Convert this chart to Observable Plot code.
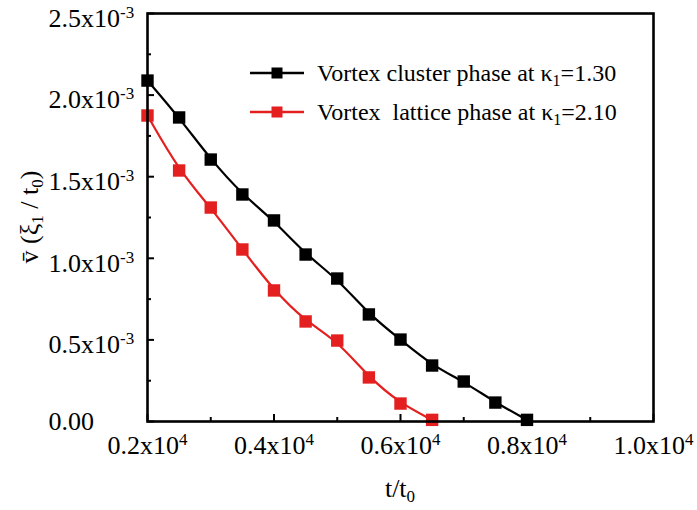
<!DOCTYPE html>
<html><head><meta charset="utf-8">
<script src="https://cdn.jsdelivr.net/npm/d3@7"></script>
<script src="https://cdn.jsdelivr.net/npm/@observablehq/plot@0.6"></script>
<style>
body{margin:0;background:#fff}
#chart{position:relative;width:697px;height:510px}
#chart svg text{font-family:"Liberation Serif","Times New Roman",serif !important}
</style>
</head><body><div id="chart"></div>
<script>
// ---- data ----
const clusterT = [2000,2500,3000,3500,4000,4500,5000,5500,6000,6500,7000,7500,8000];
const clusterV = [2.089e-3,1.863e-3,1.605e-3,1.391e-3,1.232e-3,1.023e-3,0.876e-3,0.656e-3,0.502e-3,0.343e-3,0.245e-3,0.116e-3,0.010e-3];
const latticeT = [2000,2500,3000,3500,4000,4500,5000,5500,6000,6500];
const latticeV = [1.875e-3,1.538e-3,1.311e-3,1.054e-3,0.803e-3,0.613e-3,0.496e-3,0.270e-3,0.110e-3,0.010e-3];
const seriesNames = ["cluster","lattice"];
const seriesColors = ["#000000","#e3201f"];
const legendLabels = [
  ["Vortex cluster phase at κ","1","=1.30"],
  ["Vortex  lattice phase at κ","1","=2.10"]
];
const xTicks = [2000,4000,6000,8000,10000];
const xTickLabels = ["0.2x10^4","0.4x10^4","0.6x10^4","0.8x10^4","1.0x10^4"];
const xMinorTicks = [3000,5000,7000,9000];
const yTicks = [0,0.0005,0.001,0.0015,0.002,0.0025];
const yTickLabels = ["0.00","0.5x10^-3","1.0x10^-3","1.5x10^-3","2.0x10^-3","2.5x10^-3"];
const yMinorTicks = [0.00025,0.00075,0.00125,0.00175,0.00225];

const rows = [
  ...clusterT.map((t,i)=>({t, v:clusterV[i], series:seriesNames[0]})),
  ...latticeT.map((t,i)=>({t, v:latticeV[i], series:seriesNames[1]}))
];

const font = "'Liberation Serif','Times New Roman',serif";
const plot = Plot.plot({
  width:697, height:510,
  marginLeft:147, marginRight:44, marginTop:13, marginBottom:89,
  style:{fontFamily:font, fontSize:"26px", background:"#fff", color:"#000", overflow:"visible"},
  x:{domain:[2000,10000]},
  y:{domain:[0,0.0025]},
  color:{domain:seriesNames, range:seriesColors},
  marks:[
    Plot.line(rows,{x:"t",y:"v",z:"series",stroke:"series",strokeWidth:2.2,curve:"basis"}),
    Plot.dot(rows,{x:"t",y:"v",fill:"series",symbol:"square",r:7}),
    Plot.axisX(xTicks,{tickSize:0,tickPadding:14,tickFormat:d=>xTickLabels[xTicks.indexOf(d)],fontSize:26,label:null}),
    Plot.axisX(xTicks,{tickSize:-7,fill:"none",strokeWidth:2,label:null}),
    Plot.axisX(xMinorTicks,{tickSize:-4,fill:"none",strokeWidth:2,label:null}),
    Plot.axisY(yTicks,{tickSize:0,tickPadding:99,tickFormat:d=>yTickLabels[yTicks.indexOf(d)],fontSize:26,label:null}),
    Plot.axisY(yTicks,{tickSize:-7,fill:"none",strokeWidth:2,label:null}),
    Plot.axisY(yMinorTicks,{tickSize:-4,fill:"none",strokeWidth:2,label:null}),
    Plot.frame({strokeWidth:2.6})
  ]
});
document.getElementById("chart").appendChild(plot);

const svg = d3.select(plot);
// superscripts in tick labels
svg.selectAll('g[aria-label="x-axis tick label"] text, g[aria-label="y-axis tick label"] text').each(function(){
  const s = this.textContent;
  const k = s.indexOf("^");
  if (k < 0) return;
  const el = d3.select(this);
  el.text(s.slice(0,k));
  el.append("tspan").attr("font-size","17px").attr("dy","-9").text(s.slice(k+1));
});
svg.selectAll('g[aria-label="y-axis tick label"] text').each(function(){
  if (this.querySelector("tspan")) {
    const el = d3.select(this);
    const tr = el.attr("transform") || "";
    el.attr("transform", tr + " translate(0,5)");
  }
});
svg.selectAll('g[aria-label="y-axis tick label"]').attr("text-anchor","start");

// axis titles
const xt = svg.append("text").attr("x",400).attr("y",497).attr("text-anchor","middle")
  .attr("font-size",26).attr("fill","#000");
xt.append("tspan").text("t/t");
xt.append("tspan").attr("font-size",17).attr("dy",5).text("0");

const yt = svg.append("text").attr("transform","translate(38,217) rotate(-90)").attr("text-anchor","middle")
  .attr("font-size",26).attr("fill","#000").attr("xml:space","preserve");
yt.append("tspan").text("v\u0304 (ξ");
yt.append("tspan").attr("font-size",17).attr("dy",5).text("1");
yt.append("tspan").attr("dy",-5).text(" / t");
yt.append("tspan").attr("font-size",17).attr("dy",5).text("0");
yt.append("tspan").attr("dy",-5).text(")");

// legend
const lg = svg.append("g");
[73,112].forEach((ly,i)=>{
  lg.append("line").attr("x1",250).attr("x2",304).attr("y1",ly).attr("y2",ly)
    .attr("stroke",seriesColors[i]).attr("stroke-width",2.5);
  lg.append("rect").attr("x",271.5).attr("y",ly-5.5).attr("width",11).attr("height",11).attr("fill",seriesColors[i]);
  const t = lg.append("text").attr("x",317).attr("y",ly+8).attr("text-anchor","start")
    .attr("font-size",24).attr("fill","#000").attr("xml:space","preserve");
  t.append("tspan").text(legendLabels[i][0]);
  t.append("tspan").attr("font-size",16).attr("dy",5).text(legendLabels[i][1]);
  t.append("tspan").attr("dy",-5).text(legendLabels[i][2]);
});
</script>
</body></html>
